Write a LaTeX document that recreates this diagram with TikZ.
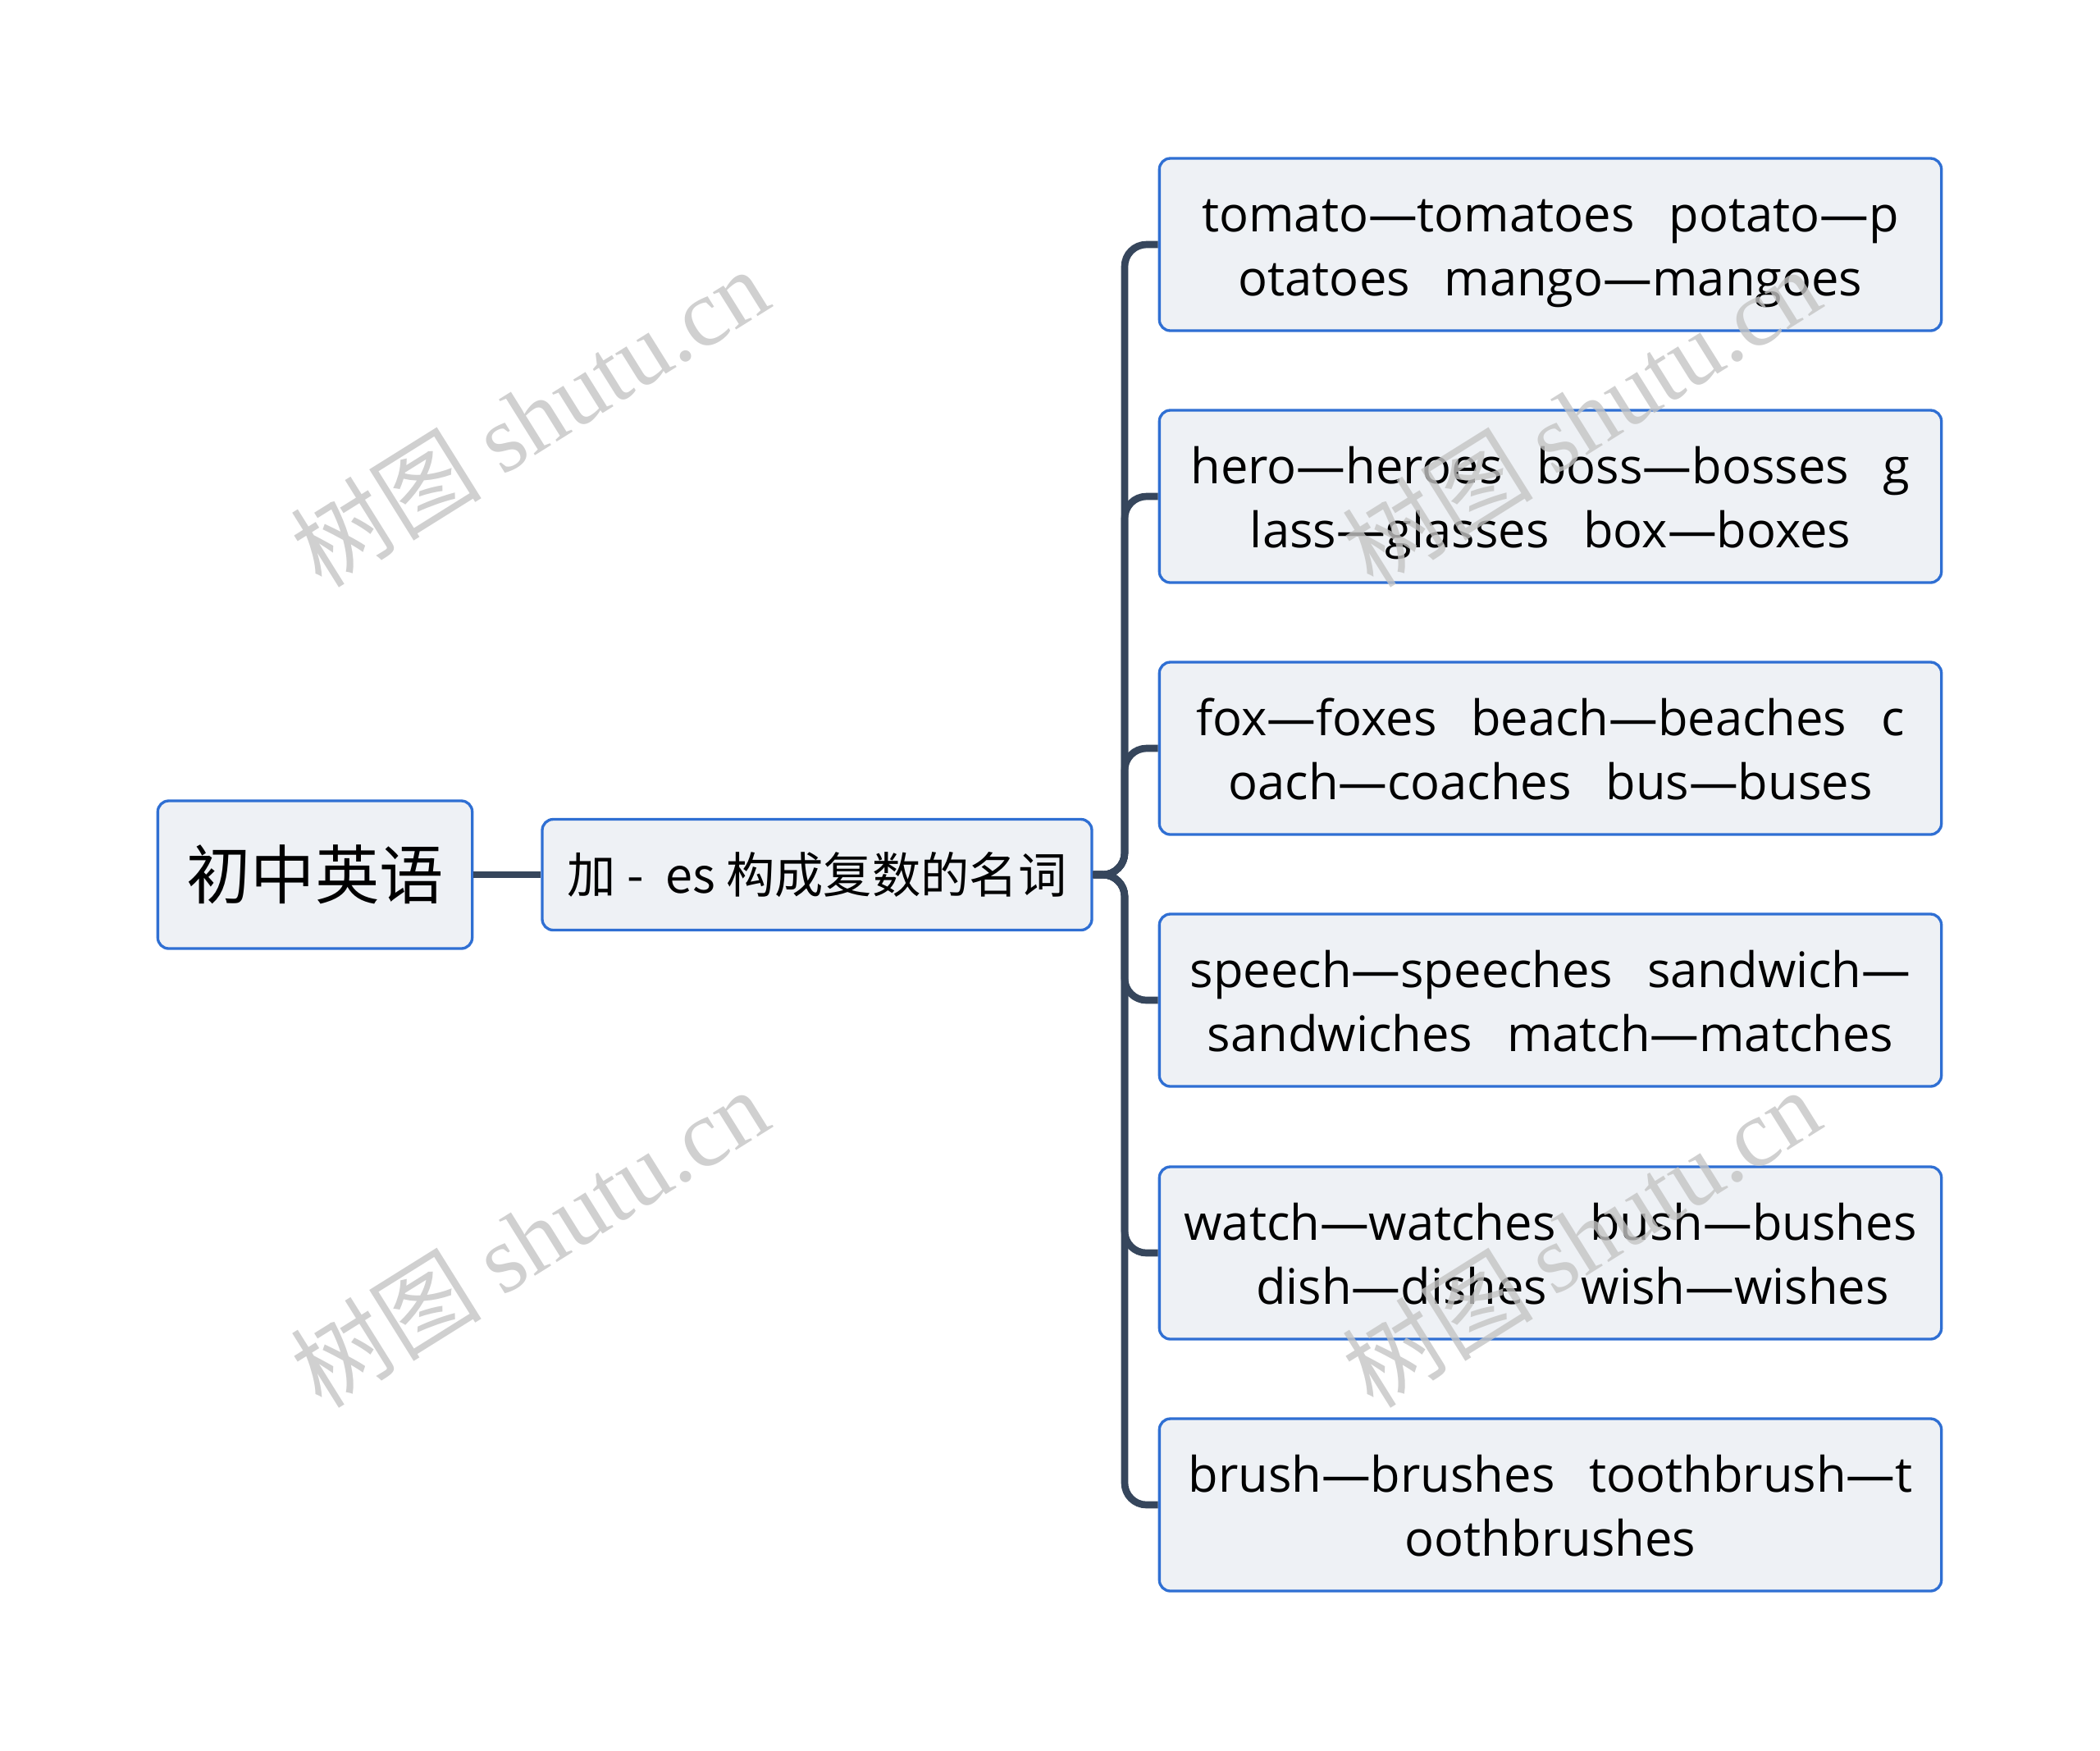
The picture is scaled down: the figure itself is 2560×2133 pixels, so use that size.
\documentclass[tikz,border=0pt]{standalone}
\usepackage{fontspec}
\setmainfont{Noto Sans CJK SC}
\newfontfamily\latinf{Open Sans}
\newfontfamily\wmserif{Liberation Serif}
\definecolor{linec}{HTML}{36465C}
\definecolor{borderc}{HTML}{2F6FD3}
\definecolor{fillc}{HTML}{EEF1F5}
\definecolor{wmc}{HTML}{C4C4C4}
\newcommand{\gp}{\hspace{0.7em}}
\newcommand{\lt}[2]{\raisebox{0pt}[\dimexpr\height+4.6pt\relax][\depth]{\begin{tabular}{@{}c@{}}#1\\#2\end{tabular}}}
\begin{document}
\begin{tikzpicture}[x=0.3pt,y=-0.3pt,
  box/.style={draw=borderc,fill=fillc,line width=1pt,rounded corners=4pt,inner sep=0pt,align=center},
  leaf/.style={box,minimum width=286pt,minimum height=63pt,font=\latinf\fontsize{17.9pt}{23.3pt}\selectfont},
  conn/.style={draw=linec,line width=2.6pt,rounded corners=8pt},
  wm/.style={text=wmc,opacity=0.8,rotate=32,font=\fontsize{35pt}{40pt}\selectfont}]
\useasboundingbox (0,0) rectangle (2560,2133);
\node[box,minimum width=115pt,minimum height=54pt,font=\fontsize{23.5pt}{28pt}\selectfont] (root) at (384,1066) {初中英语};
\node[box,minimum width=201pt,minimum height=40.5pt,font=\fontsize{17.8pt}{21pt}\selectfont] (mid) at (996,1066) {加 -~~es 构成复数的名词};
\node[leaf] (l1) at (1890,298) {\lt{tomato—tomatoes\gp potato—p}{otatoes\gp mango—mangoes}};
\node[leaf] (l2) at (1890,605) {\lt{hero—heroes\gp boss—bosses\gp g}{lass—glasses\gp box—boxes}};
\node[leaf] (l3) at (1890,912) {\lt{fox—foxes\gp beach—beaches\gp c}{oach—coaches\gp bus—buses}};
\node[leaf] (l4) at (1890,1219) {\lt{speech—speeches\gp sandwich—}{sandwiches\gp match—matches}};
\node[leaf] (l5) at (1890,1527) {\lt{watch—watches\gp bush—bushes}{\hspace{0.9em}dish—dishes\gp wish—wishes}};
\node[leaf] (l6) at (1890,1834) {\lt{brush—brushes\gp toothbrush—t}{oothbrushes}};
\coordinate (j) at (1371,1066);
\draw[conn] (root.east) -- (mid.west);
\foreach \n in {l1,l2,l3,l4,l5,l6}{
  \draw[conn] (mid.east) -- (j) -- (j |- \n.west) -- (\n.west);
}
\node[wm] (w1) at (645,508) {树图 {\wmserif shutu.cn}};
\node[wm] (w2) at (645,1508) {树图 {\wmserif shutu.cn}};
\node[wm] (w3) at (1927,508) {树图 {\wmserif shutu.cn}};
\node[wm] (w4) at (1927,1508) {树图 {\wmserif shutu.cn}};
\end{tikzpicture}
\end{document}
